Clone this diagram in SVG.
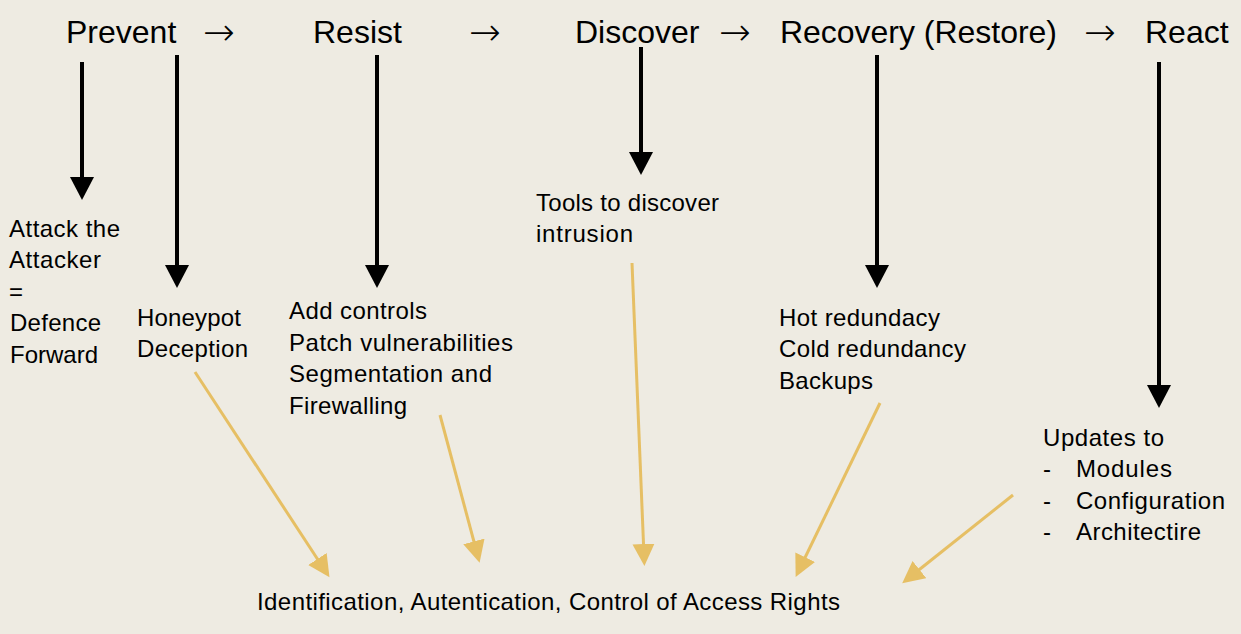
<svg xmlns="http://www.w3.org/2000/svg" width="1241" height="634" viewBox="0 0 1241 634">
<style>
.bg{fill:#EEEBE2}
.h{font-family:"Liberation Sans",Arial,sans-serif;font-size:32px;fill:#000}
.ar{font-family:"DejaVu Sans",sans-serif;font-size:38px;font-weight:200;fill:#000}
.t{font-family:"Liberation Sans",Arial,sans-serif;font-size:24px;fill:#000}
.blk{stroke:#000;stroke-width:4;fill:none}
.gld{stroke:#E6BF64;stroke-width:3;fill:none}
</style>
<defs>
<marker id="ab" markerUnits="userSpaceOnUse" markerWidth="24" markerHeight="24" refX="13" refY="12" orient="auto" viewBox="0 0 24 24">
<path d="M0,0 L23,12 L0,24 Z" fill="#000"/>
</marker>
<marker id="ag" markerUnits="userSpaceOnUse" markerWidth="24" markerHeight="24" refX="12" refY="11" orient="auto" viewBox="0 0 24 24">
<path d="M0,0 L22,11 L0,22 Z" fill="#E6BF64"/>
</marker>
</defs>
<rect class="bg" x="0" y="0" width="1241" height="634"/>

<g id="header">
<g id="prevent"><text class="h" x="66" y="43">Prevent</text></g>
<text class="ar" x="203" y="45">→</text>
<g id="resist"><text class="h" x="313" y="43">Resist</text></g>
<text class="ar" x="469" y="45">→</text>
<g id="discover"><text class="h" x="575" y="43">Discover</text></g>
<text class="ar" x="719" y="45">→</text>
<g id="recovery"><text class="h" x="780" y="43" textLength="277">Recovery (Restore)</text></g>
<text class="ar" x="1084" y="45">→</text>
<g id="react"><text class="h" x="1145" y="43">React</text></g>
</g>

<g id="attack">
<text class="t" x="9" y="237" textLength="111">Attack the</text>
<text class="t" x="9" y="268" textLength="92">Attacker</text>
<text class="t" x="9" y="300">=</text>
<text class="t" x="10" y="331" textLength="91">Defence</text>
<text class="t" x="10" y="363" textLength="88">Forward</text>
</g>
<g id="honeypot">
<text class="t" x="137" y="326" textLength="104">Honeypot</text>
<text class="t" x="137" y="357" textLength="111">Deception</text>
</g>
<g id="controls">
<text class="t" x="289" y="319" textLength="138">Add controls</text>
<text class="t" x="289" y="351" textLength="224">Patch vulnerabilities</text>
<text class="t" x="289" y="382" textLength="203">Segmentation and</text>
<text class="t" x="289" y="414" textLength="118">Firewalling</text>
</g>
<g id="tools">
<text class="t" x="536" y="211" textLength="183">Tools to discover</text>
<text class="t" x="536" y="242" textLength="97">intrusion</text>
</g>
<g id="redundancy">
<text class="t" x="779" y="326" textLength="161">Hot redundacy</text>
<text class="t" x="779" y="357" textLength="187">Cold redundancy</text>
<text class="t" x="779" y="389" textLength="94">Backups</text>
</g>
<g id="updates">
<text class="t" x="1043" y="446" textLength="121">Updates to</text>
<text class="t" x="1043" y="477">-</text>
<text class="t" x="1076" y="477" textLength="96">Modules</text>
<text class="t" x="1043" y="509">-</text>
<text class="t" x="1076" y="509" textLength="149">Configuration</text>
<text class="t" x="1043" y="540">-</text>
<text class="t" x="1076" y="540" textLength="125">Architectire</text>
</g>
<g id="access">
<text class="t" x="257" y="610" textLength="583">Identification, Autentication, Control of Access Rights</text>
</g>

<g id="connectors">
<line class="blk" x1="82" y1="62" x2="82" y2="190" marker-end="url(#ab)"/>
<line class="blk" x1="177" y1="55" x2="177" y2="278" marker-end="url(#ab)"/>
<line class="blk" x1="377" y1="55" x2="377" y2="278" marker-end="url(#ab)"/>
<line class="blk" x1="641" y1="47" x2="641" y2="165" marker-end="url(#ab)"/>
<line class="blk" x1="877" y1="55" x2="877" y2="278" marker-end="url(#ab)"/>
<line class="blk" x1="1159" y1="62" x2="1159" y2="398" marker-end="url(#ab)"/>

<line class="gld" x1="195" y1="372" x2="324" y2="569" marker-end="url(#ag)"/>
<line class="gld" x1="440" y1="415" x2="477" y2="553" marker-end="url(#ag)"/>
<line class="gld" x1="632" y1="263" x2="644" y2="556" marker-end="url(#ag)"/>
<line class="gld" x1="880" y1="403" x2="800" y2="568" marker-end="url(#ag)"/>
<line class="gld" x1="1013" y1="495" x2="910" y2="577" marker-end="url(#ag)"/>
</g>
</svg>
